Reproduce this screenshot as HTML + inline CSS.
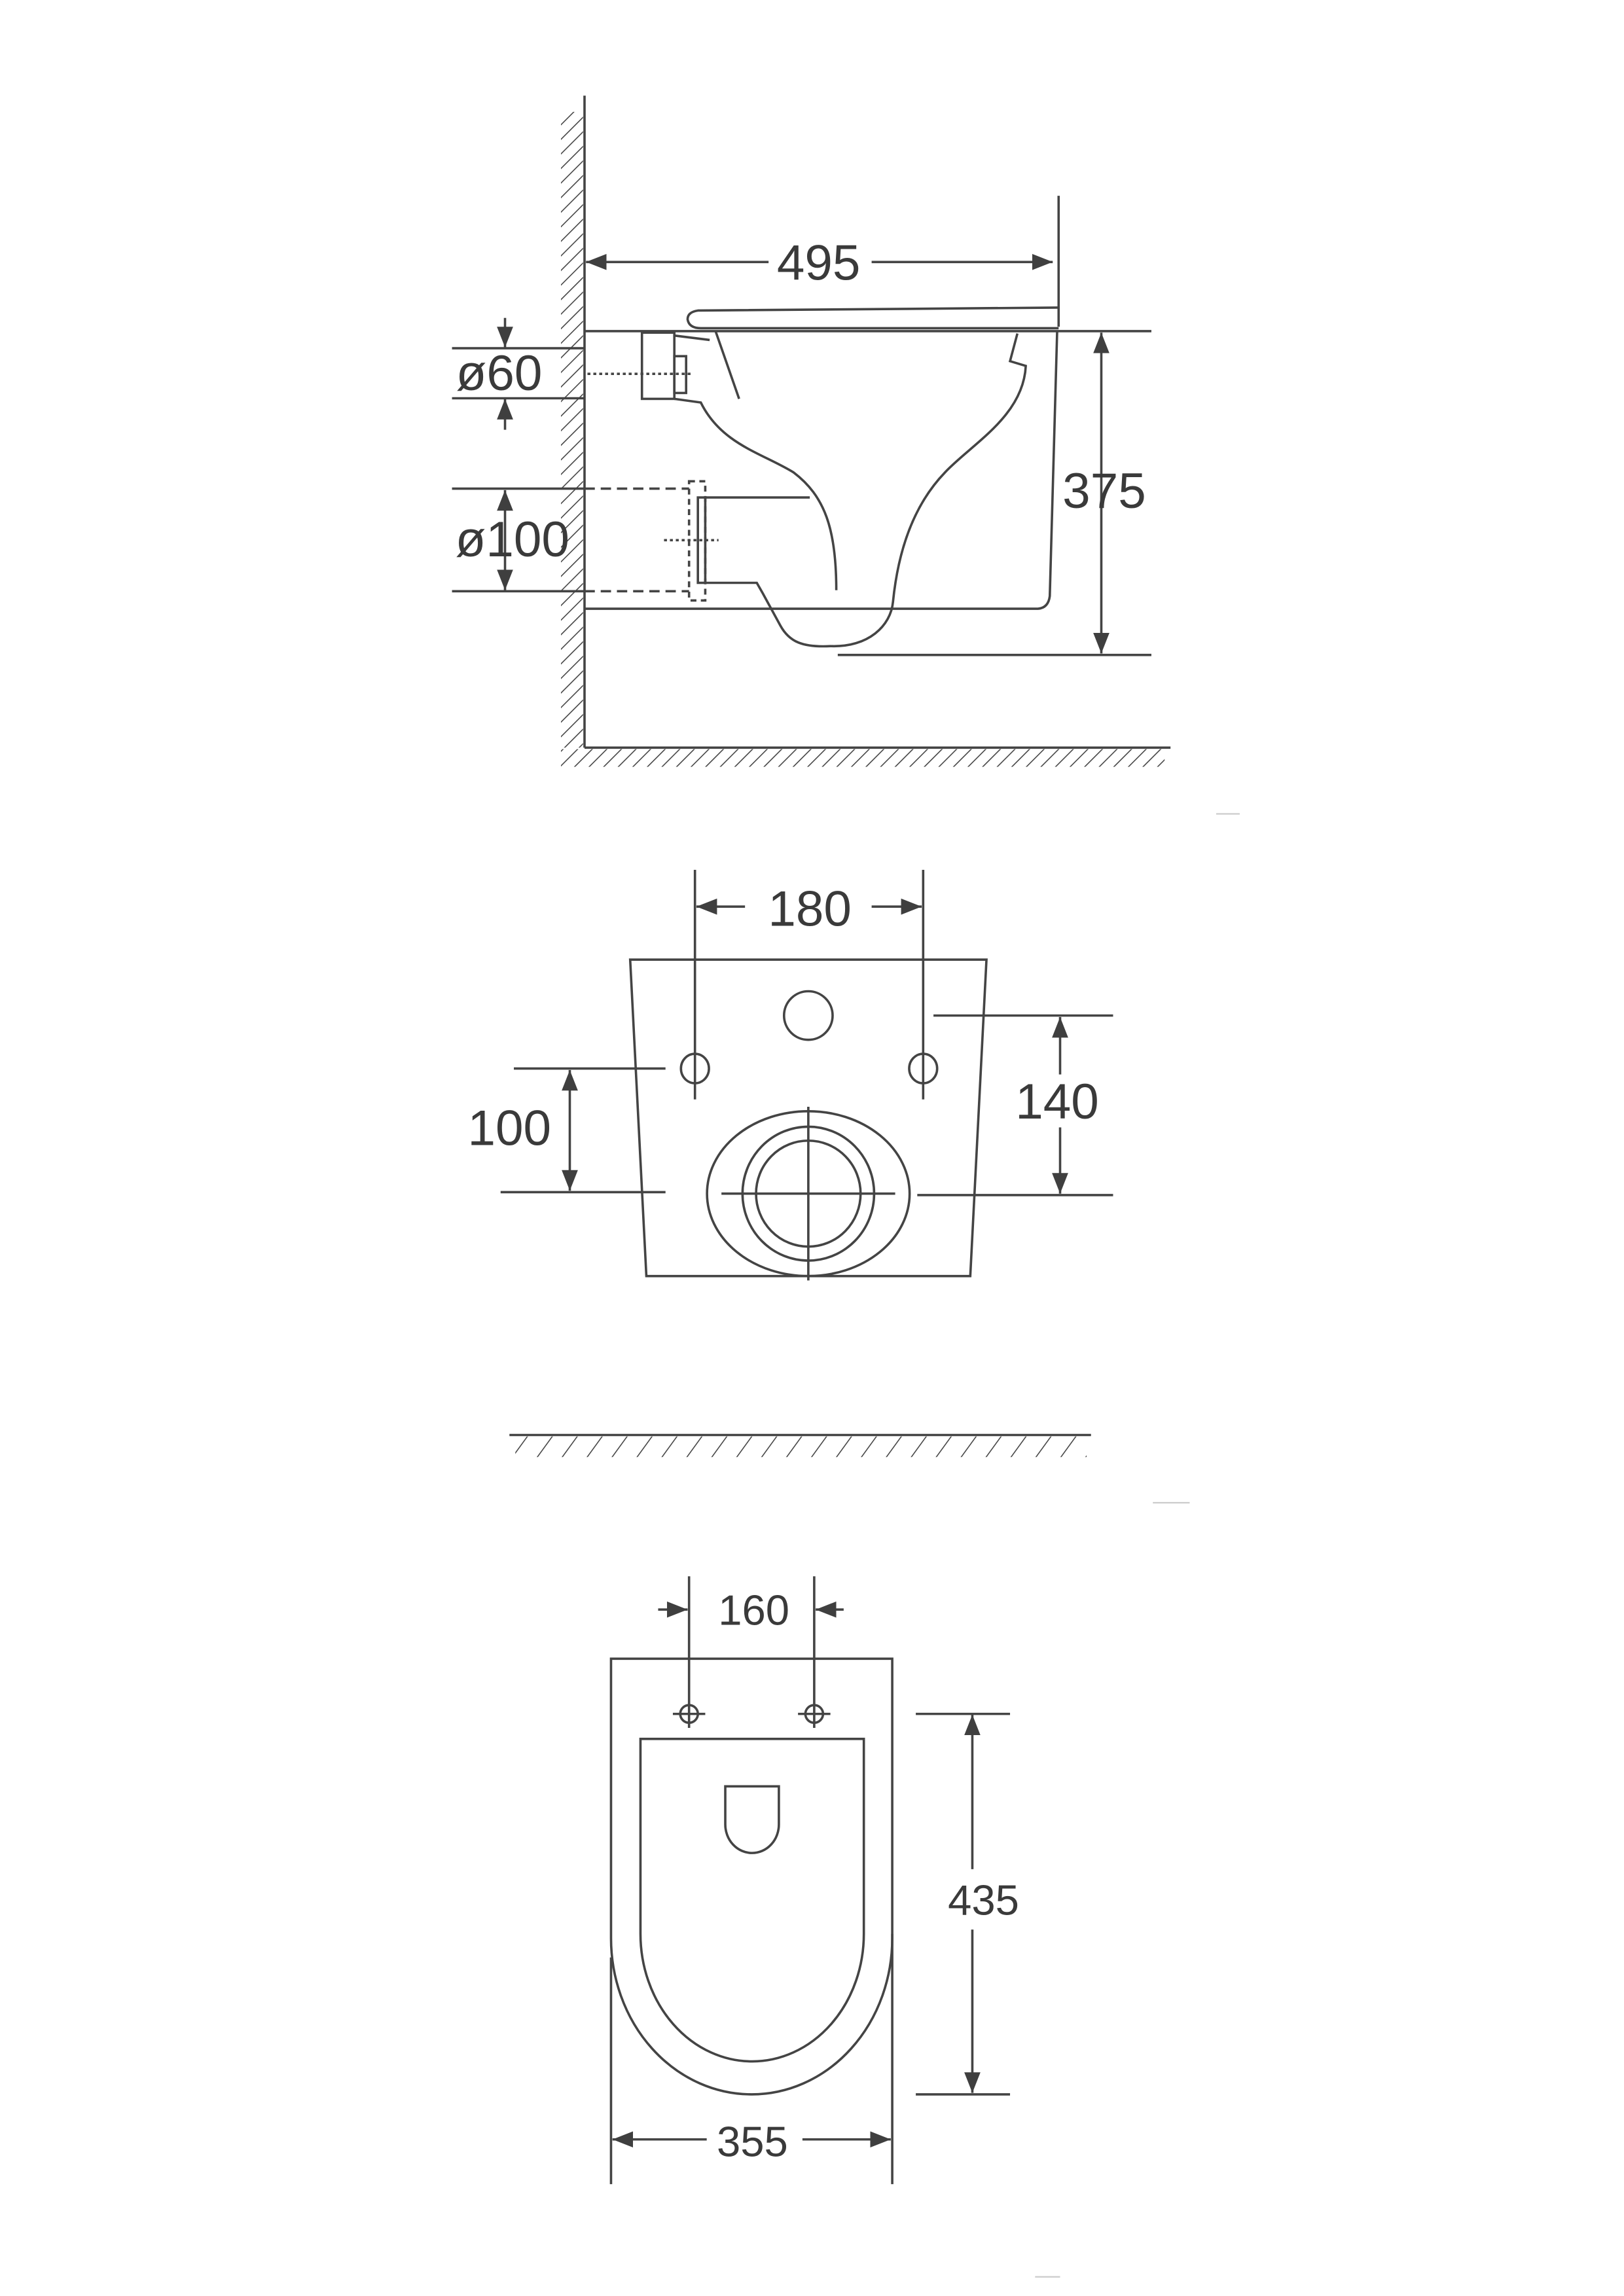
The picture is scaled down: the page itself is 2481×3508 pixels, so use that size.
<!DOCTYPE html>
<html><head><meta charset="utf-8"><style>
html,body{margin:0;padding:0;background:#fff;}
svg{display:block;}
text{font-family:"Liberation Sans",Arial,sans-serif;fill:#3a3a3a;}
</style></head><body>
<svg width="2481" height="3508" viewBox="0 0 1103 1560" preserveAspectRatio="none" xmlns="http://www.w3.org/2000/svg">
<defs>
<marker id="ah" viewBox="0 0 14 11" refX="14" refY="5.5" markerWidth="14" markerHeight="11" markerUnits="userSpaceOnUse" orient="auto-start-reverse">
<path d="M0,0 L14,5.5 L0,11 Z" fill="#3f3f3f"/></marker>
<pattern id="h45" width="7" height="7" patternUnits="userSpaceOnUse" patternTransform="rotate(45)">
<line x1="0" y1="0" x2="0" y2="7" stroke="#444" stroke-width="1.4"/></pattern>
<pattern id="h36" width="13.7" height="14" patternUnits="userSpaceOnUse" patternTransform="rotate(36)">
<line x1="0" y1="0" x2="0" y2="14" stroke="#444" stroke-width="1.4"/></pattern>
</defs>
<g fill="none" stroke="#444" stroke-width="1.6">
<!-- ===== SIDE VIEW ===== -->
<rect x="381" y="76" width="15" height="432" fill="url(#h45)" stroke="none"/>
<rect x="381" y="509" width="410" height="12" fill="url(#h45)" stroke="none"/>
<line x1="397" y1="65" x2="397" y2="508"/>
<line x1="397" y1="508" x2="795" y2="508"/>
<!-- 495 -->
<line x1="398" y1="178" x2="522" y2="178" marker-start="url(#ah)"/>
<line x1="592" y1="178" x2="715" y2="178" marker-end="url(#ah)"/>
<line x1="719" y1="133" x2="719" y2="222"/>
<!-- seat -->
<path d="M719,209 L474,211 Q467,212 467,217 Q468,223 476,223 L719,223"/>
<line x1="397" y1="225" x2="782" y2="225"/>
<!-- bowl outer -->
<path d="M718,225 L713,405 Q712,413 705,413.6 L397,413.6"/>
<!-- 375 -->
<line x1="748" y1="226" x2="748" y2="444" marker-start="url(#ah)" marker-end="url(#ah)"/>
<line x1="569" y1="445" x2="782" y2="445"/>
<!-- inlet -->
<rect x="436" y="226" width="22" height="45"/>
<rect x="458" y="242" width="8" height="25"/>
<line x1="399" y1="254" x2="470" y2="254" stroke-dasharray="2,2"/>
<line x1="458" y1="228" x2="482" y2="231"/>
<line x1="486" y1="225" x2="502" y2="271"/>
<path d="M458,271 L476,273.5 C490,302 518,308 539,321 C560,337 568,359 568,401"/>
<path d="M691,226.6 L686,245.4 L696.7,248.6 C695,283 659.5,302 641.8,321 C620.6,343 610,374 606.5,409 C605,425 590,440 564,439 C545,440 536,436 530,425 L518,403 L514,396 L479,396"/>
<line x1="479" y1="338" x2="550" y2="338"/>
<rect x="474" y="338" width="5" height="58"/>
<rect x="468" y="327" width="11" height="81" stroke-dasharray="4,3"/>
<line x1="451" y1="367" x2="488" y2="367" stroke-dasharray="2,2"/>
<!-- ø60 -->
<line x1="307" y1="236.6" x2="397" y2="236.6"/>
<line x1="307" y1="270.6" x2="397" y2="270.6"/>
<line x1="343" y1="216" x2="343" y2="236" marker-end="url(#ah)"/>
<line x1="343" y1="292" x2="343" y2="271" marker-end="url(#ah)"/>
<!-- ø100 -->
<line x1="307" y1="332" x2="397" y2="332"/>
<line x1="307" y1="401.7" x2="397" y2="401.7"/>
<line x1="397" y1="332" x2="468" y2="332" stroke-dasharray="7,4"/>
<line x1="397" y1="401.7" x2="468" y2="401.7" stroke-dasharray="7,4"/>
<line x1="343" y1="333" x2="343" y2="401" marker-start="url(#ah)" marker-end="url(#ah)"/>

<!-- ===== FRONT VIEW ===== -->
<line x1="472" y1="591" x2="472" y2="747"/>
<line x1="627" y1="591" x2="627" y2="747"/>
<line x1="506" y1="616" x2="473" y2="616" marker-end="url(#ah)"/>
<line x1="592" y1="616" x2="626" y2="616" marker-end="url(#ah)"/>
<path d="M428,652 L670,652 L659,867 L439,867 Z"/>
<circle cx="549" cy="690" r="16.5"/>
<ellipse cx="472" cy="726" rx="9.5" ry="10"/>
<ellipse cx="627" cy="726" rx="9.5" ry="10"/>
<ellipse cx="549" cy="811" rx="68.8" ry="56"/>
<ellipse cx="549" cy="811" rx="44.7" ry="45.5"/>
<ellipse cx="549" cy="811" rx="35.5" ry="36"/>
<line x1="490" y1="811" x2="608" y2="811"/>
<line x1="549" y1="752" x2="549" y2="870"/>
<line x1="349" y1="726" x2="452" y2="726"/>
<line x1="340" y1="810" x2="452" y2="810"/>
<line x1="387" y1="727" x2="387" y2="809" marker-start="url(#ah)" marker-end="url(#ah)"/>
<line x1="634" y1="690" x2="756" y2="690"/>
<line x1="623" y1="812" x2="756" y2="812"/>
<line x1="720" y1="691" x2="720" y2="730" marker-start="url(#ah)"/>
<line x1="720" y1="766" x2="720" y2="811" marker-end="url(#ah)"/>
<!-- ground -->
<line x1="346" y1="975" x2="741" y2="975"/>
<rect x="350" y="976" width="388" height="14" fill="url(#h36)" stroke="none"/>

<!-- ===== TOP VIEW ===== -->
<path d="M415,1317 L415,1127 L606,1127 L606,1317"/>
<path d="M415,1317 A95.5,106 0 0 0 606,1317"/>
<line x1="415" y1="1330" x2="415" y2="1484"/>
<line x1="606" y1="1314" x2="606" y2="1484"/>
<path d="M435,1314 L435,1181.5 L586.7,1181.5 L586.7,1314 A75.85,86.6 0 0 1 435,1314"/>
<path d="M492.6,1239.6 L492.6,1213.7 L529,1213.7 L529,1239.6 A18.2,19.4 0 0 1 492.6,1239.6"/>
<circle cx="468" cy="1164.5" r="6"/>
<circle cx="553" cy="1164.5" r="6"/>
<line x1="457" y1="1164.5" x2="479" y2="1164.5"/>
<line x1="542" y1="1164.5" x2="564" y2="1164.5"/>
<line x1="468" y1="1071" x2="468" y2="1174"/>
<line x1="553" y1="1071" x2="553" y2="1174"/>
<line x1="447" y1="1093.6" x2="467" y2="1093.6" marker-end="url(#ah)"/>
<line x1="573" y1="1093.6" x2="554" y2="1093.6" marker-end="url(#ah)"/>
<line x1="622" y1="1164.5" x2="686" y2="1164.5"/>
<line x1="622" y1="1423" x2="686" y2="1423"/>
<line x1="660.4" y1="1165" x2="660.4" y2="1270" marker-start="url(#ah)"/>
<line x1="660.4" y1="1311" x2="660.4" y2="1422" marker-end="url(#ah)"/>
<line x1="416" y1="1453.6" x2="480" y2="1453.6" marker-start="url(#ah)"/>
<line x1="545" y1="1453.6" x2="605" y2="1453.6" marker-end="url(#ah)"/>
</g>
<g stroke="#ccc" stroke-width="1">
<line x1="826" y1="553" x2="842" y2="553"/>
<line x1="783" y1="1021" x2="808" y2="1021"/>
<line x1="703" y1="1547" x2="720" y2="1547"/>
</g>
<!-- labels -->
<g font-size="34" text-anchor="middle">
<text x="556" y="190">495</text>
<text x="750" y="345">375</text>
<text x="339" y="265">ø60</text>
<text x="348" y="378">ø100</text>
<text x="550" y="629">180</text>
<text x="346" y="778">100</text>
<text x="718" y="760">140</text>
</g>
<g font-size="29" text-anchor="middle">
<text x="512" y="1104">160</text>
<text x="668" y="1301">435</text>
<text x="511" y="1465">355</text>
</g>
</svg>
</body></html>
